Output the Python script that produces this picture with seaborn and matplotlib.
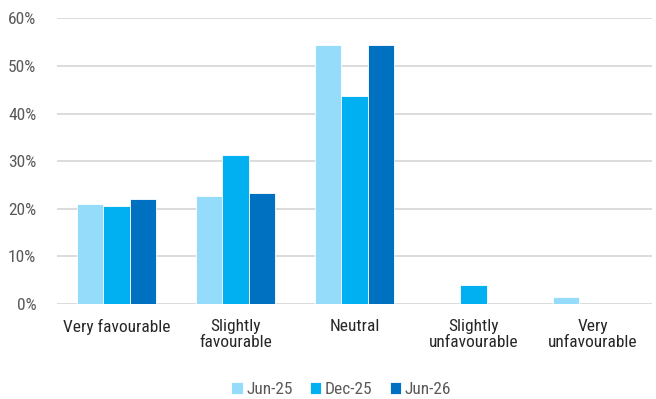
import matplotlib
matplotlib.use("Agg")
import matplotlib.pyplot as plt
import seaborn as sns
import pandas as pd
from matplotlib.ticker import PercentFormatter, MultipleLocator

categories = ["Very favourable", "Slightly\nfavourable", "Neutral",
              "Slightly\nunfavourable", "Very\nunfavourable"]
periods = ["Jun-25", "Dec-25", "Jun-26"]
jun25 = [21.1, 22.7, 54.5, 0.0, 1.5]
dec25 = [20.5, 31.4, 43.7, 4.0, 0.0]
jun26 = [22.0, 23.3, 54.5, 0.0, 0.0]
colors = ["#95DCFA", "#00B0F0", "#0070C0"]

df = pd.DataFrame({
    "category": categories * 3,
    "period": [p for p in periods for _ in categories],
    "value": jun25 + dec25 + jun26,
})

sns.set_theme(style="white")
plt.rcParams["font.family"] = ["Roboto Condensed", "DejaVu Sans"]
text_color = "#595959"

fig = plt.figure(figsize=(6.56, 3.99), dpi=100)
ax = fig.add_axes([0.087, 0.238, 0.907, 0.716])

sns.barplot(data=df, x="category", y="value", hue="period",
            hue_order=periods, order=categories, palette=colors,
            width=0.67, saturation=1, edgecolor="white", linewidth=0.6,
            ax=ax, legend=True)

ax.set_ylim(0, 60)
ax.yaxis.set_major_locator(MultipleLocator(10))
ax.yaxis.set_major_formatter(PercentFormatter(decimals=0))
ax.grid(axis="y", color="#D9D9D9", linewidth=1.3)
ax.set_axisbelow(True)
for s in ax.spines.values():
    s.set_visible(False)
ax.set_xlabel("")
ax.set_ylabel("")
ax.tick_params(axis="both", length=0, labelsize=12.5, colors=text_color)
ax.tick_params(axis="x", pad=11, colors="#262626")
ax.tick_params(axis="y", pad=15)
for lbl in ax.get_xticklabels():
    lbl.set_linespacing(1.05)

handles, labels = ax.get_legend_handles_labels()
ax.legend_.remove()
fig.legend(handles, labels, loc="lower center", ncol=3, frameon=False,
           bbox_to_anchor=(0.52, -0.035), fontsize=12.5, handlelength=0.65,
           handleheight=0.65, handletextpad=0.2, columnspacing=1.0,
           labelcolor=text_color)

fig.savefig("out.png", dpi=100)
